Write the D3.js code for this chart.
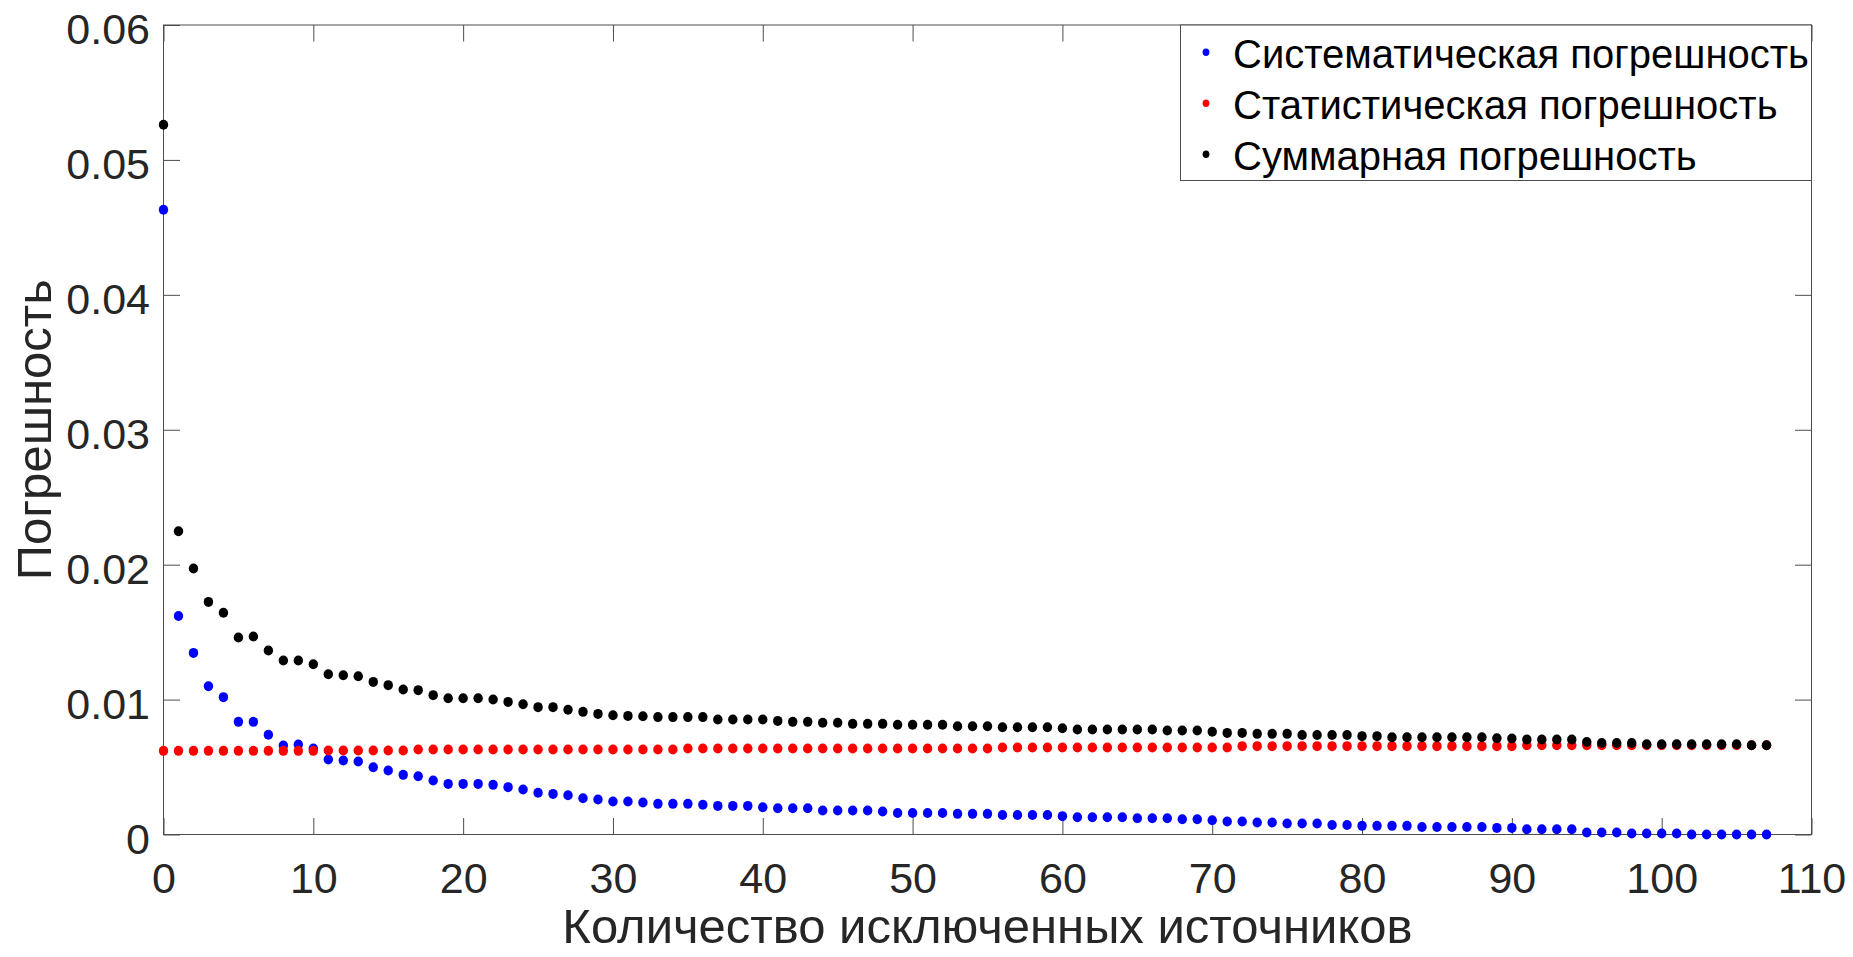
<!DOCTYPE html>
<html>
<head>
<meta charset="utf-8">
<script src="https://cdn.jsdelivr.net/npm/d3@7"></script>
<style>
  body { margin: 0; background: #fff; }
  svg text { font-family: "Liberation Sans", Arial, sans-serif; }
</style>
</head>
<body>
<svg id="chart" width="1853" height="957"></svg>
<script>
// values are in units of 10^-3, index = number of excluded sources (0..107)
const systematic = [
  46.3, 16.2, 13.46, 10.99, 10.18, 8.35, 8.35, 7.39, 6.60, 6.67,
  6.37, 5.56, 5.48, 5.41, 4.99, 4.74, 4.42, 4.32, 4.00, 3.75,
  3.75, 3.75, 3.68, 3.51, 3.33, 3.09, 3.01, 2.91, 2.69, 2.59,
  2.45, 2.45, 2.37, 2.27, 2.27, 2.27, 2.20, 2.12, 2.12, 2.12,
  2.02, 1.95, 1.95, 1.95, 1.78, 1.78, 1.78, 1.78, 1.70, 1.60,
  1.60, 1.60, 1.60, 1.53, 1.53, 1.53, 1.45, 1.45, 1.45, 1.45,
  1.36, 1.28, 1.28, 1.28, 1.28, 1.21, 1.21, 1.21, 1.13, 1.13,
  1.06, 0.96, 0.96, 0.89, 0.89, 0.81, 0.81, 0.81, 0.71, 0.71,
  0.64, 0.64, 0.64, 0.64, 0.56, 0.56, 0.56, 0.56, 0.56, 0.49,
  0.49, 0.39, 0.39, 0.39, 0.39, 0.15, 0.15, 0.15, 0.07, 0.07,
  0.07, 0.07, 0.00, 0.00, 0.00, 0.00, 0.00, 0.00
]

const statistical = [
  6.20, 6.20, 6.20, 6.20, 6.20, 6.20, 6.20, 6.20, 6.20, 6.20,
  6.20, 6.22, 6.22, 6.22, 6.22, 6.22, 6.22, 6.30, 6.30, 6.30,
  6.30, 6.30, 6.30, 6.30, 6.30, 6.30, 6.30, 6.30, 6.30, 6.30,
  6.30, 6.30, 6.30, 6.30, 6.30, 6.37, 6.37, 6.37, 6.37, 6.37,
  6.37, 6.37, 6.37, 6.37, 6.37, 6.37, 6.37, 6.37, 6.37, 6.37,
  6.37, 6.37, 6.37, 6.37, 6.37, 6.37, 6.45, 6.45, 6.45, 6.45,
  6.45, 6.45, 6.45, 6.45, 6.45, 6.45, 6.45, 6.45, 6.45, 6.45,
  6.45, 6.45, 6.55, 6.55, 6.55, 6.55, 6.55, 6.55, 6.55, 6.55,
  6.55, 6.55, 6.55, 6.55, 6.55, 6.55, 6.55, 6.55, 6.55, 6.55,
  6.55, 6.62, 6.62, 6.62, 6.62, 6.62, 6.62, 6.62, 6.62, 6.62,
  6.62, 6.62, 6.62, 6.62, 6.62, 6.62, 6.62, 6.62
]

const total = [
  52.6, 22.48, 19.72, 17.24, 16.43, 14.60, 14.68, 13.64, 12.90, 12.90,
  12.62, 11.88, 11.81, 11.73, 11.31, 11.07, 10.75, 10.70, 10.33, 10.10,
  10.10, 10.10, 10.01, 9.83, 9.66, 9.44, 9.44, 9.24, 9.09, 8.94,
  8.84, 8.79, 8.77, 8.70, 8.70, 8.70, 8.70, 8.52, 8.52, 8.52,
  8.52, 8.42, 8.35, 8.35, 8.28, 8.28, 8.20, 8.20, 8.20, 8.13,
  8.13, 8.13, 8.13, 8.03, 8.03, 8.03, 7.95, 7.95, 7.95, 7.95,
  7.88, 7.78, 7.78, 7.78, 7.78, 7.78, 7.78, 7.71, 7.71, 7.71,
  7.61, 7.53, 7.53, 7.46, 7.46, 7.46, 7.38, 7.38, 7.38, 7.38,
  7.29, 7.29, 7.21, 7.21, 7.21, 7.21, 7.21, 7.21, 7.21, 7.14,
  7.12, 7.04, 7.04, 7.04, 7.04, 6.85, 6.78, 6.78, 6.78, 6.69,
  6.69, 6.69, 6.69, 6.69, 6.69, 6.69, 6.62, 6.62
]

const seriesNames = ["Систематическая погрешность", "Статистическая погрешность", "Суммарная погрешность"]
const seriesColors = ["#0000ff", "#ff0000", "#000000"]

const xTicks = [0, 10, 20, 30, 40, 50, 60, 70, 80, 90, 100, 110]
const yTicks = [0, 0.01, 0.02, 0.03, 0.04, 0.05, 0.06]
const yTickLabels = ["0", "0.01", "0.02", "0.03", "0.04", "0.05", "0.06"]

const xLabel = "Количество исключенных источников"
const yLabel = "Погрешность"

const svg = d3.select("#chart")

const plotLeft = 163.5, plotRight = 1811.5, plotTop = 25, plotBottom = 834.5
const axisColor = "#262626",
      lineColor = "#4d4d4d"

const x = d3.scaleLinear().domain([0, 110]).range([plotLeft, plotRight])
const y = d3.scaleLinear().domain([0, 0.06]).range([plotBottom, plotTop])

//
// Axes
//

function styleAxis (g) {
  g.select(".domain").remove()
  g.selectAll(".tick line").attr("stroke", lineColor).attr("stroke-width", 1)
  g.selectAll(".tick text").attr("fill", axisColor).attr("font-size", 43)
}

svg.append("g")
    .attr("transform", `translate(0,${plotBottom})`)
    .call(d3.axisBottom(x).tickValues(xTicks).tickSizeInner(-16.5).tickSizeOuter(0).tickPadding(28))
    .call(styleAxis)

svg.append("g")
    .attr("transform", `translate(0,${plotTop})`)
    .call(d3.axisTop(x).tickValues(xTicks).tickSizeInner(-16.5).tickSizeOuter(0).tickFormat(""))
    .call(styleAxis)

svg.append("g")
    .attr("transform", `translate(${plotLeft},0)`)
    .call(d3.axisLeft(y).tickValues(yTicks).tickSizeInner(-16.5).tickSizeOuter(0).tickPadding(13.5)
      .tickFormat((d, i) => yTickLabels[i]))
    .call(styleAxis)
    .call(g => g.selectAll(".tick text").attr("dy", "0.43em"))

svg.append("g")
    .attr("transform", `translate(${plotRight},0)`)
    .call(d3.axisRight(y).tickValues(yTicks).tickSizeInner(-16.5).tickSizeOuter(0).tickFormat(""))
    .call(styleAxis)

svg.append("rect")
    .attr("x", plotLeft).attr("y", plotTop)
    .attr("width", plotRight - plotLeft).attr("height", plotBottom - plotTop)
    .attr("fill", "none")
    .attr("stroke", lineColor)
    .attr("stroke-width", 1)

// axis titles
svg.append("text")
    .attr("x", (plotLeft + plotRight) / 2)
    .attr("y", 943)
    .attr("text-anchor", "middle")
    .attr("font-size", 49)
    .attr("fill", axisColor)
    .text(xLabel)

svg.append("text")
    .attr("transform", `translate(51,${(plotTop + plotBottom) / 2}) rotate(-90)`)
    .attr("text-anchor", "middle")
    .attr("font-size", 49)
    .attr("fill", axisColor)
    .text(yLabel)

//
// Points (blue first, then red, black on top)
//

const series = [systematic, statistical, total]

series.forEach((values, k) => {
  svg.append("g")
      .attr("class", "series-" + k)
    .selectAll("ellipse")
    .data(values)
    .enter().append("ellipse")
      .attr("cx", (d, i) => x(i))
      .attr("cy", d => y(d / 1000))
      .attr("rx", 4.7)
      .attr("ry", 5.0)
      .attr("fill", seriesColors[k])
})

//
// Legend
//

const legend = svg.append("g")

legend.append("rect")
    .attr("x", 1180.5).attr("y", plotTop)
    .attr("width", plotRight - 1180.5).attr("height", 155.5)
    .attr("fill", "#fff")
    .attr("stroke", lineColor)
    .attr("stroke-width", 1)

const row = legend.selectAll("g.row")
    .data(seriesNames)
    .enter().append("g")
      .attr("class", "row")
      .attr("transform", (d, i) => `translate(0,${68.3 + i * 51})`)

row.append("ellipse")
    .attr("cx", 1206)
    .attr("cy", -16)
    .attr("rx", 3.4)
    .attr("ry", 3.8)
    .attr("fill", (d, i) => seriesColors[i])

row.append("text")
    .attr("x", 1233)
    .attr("y", 0)
    .attr("font-size", 40)
    .attr("fill", "#000")
    .text(d => d)
</script>
</body>
</html>
